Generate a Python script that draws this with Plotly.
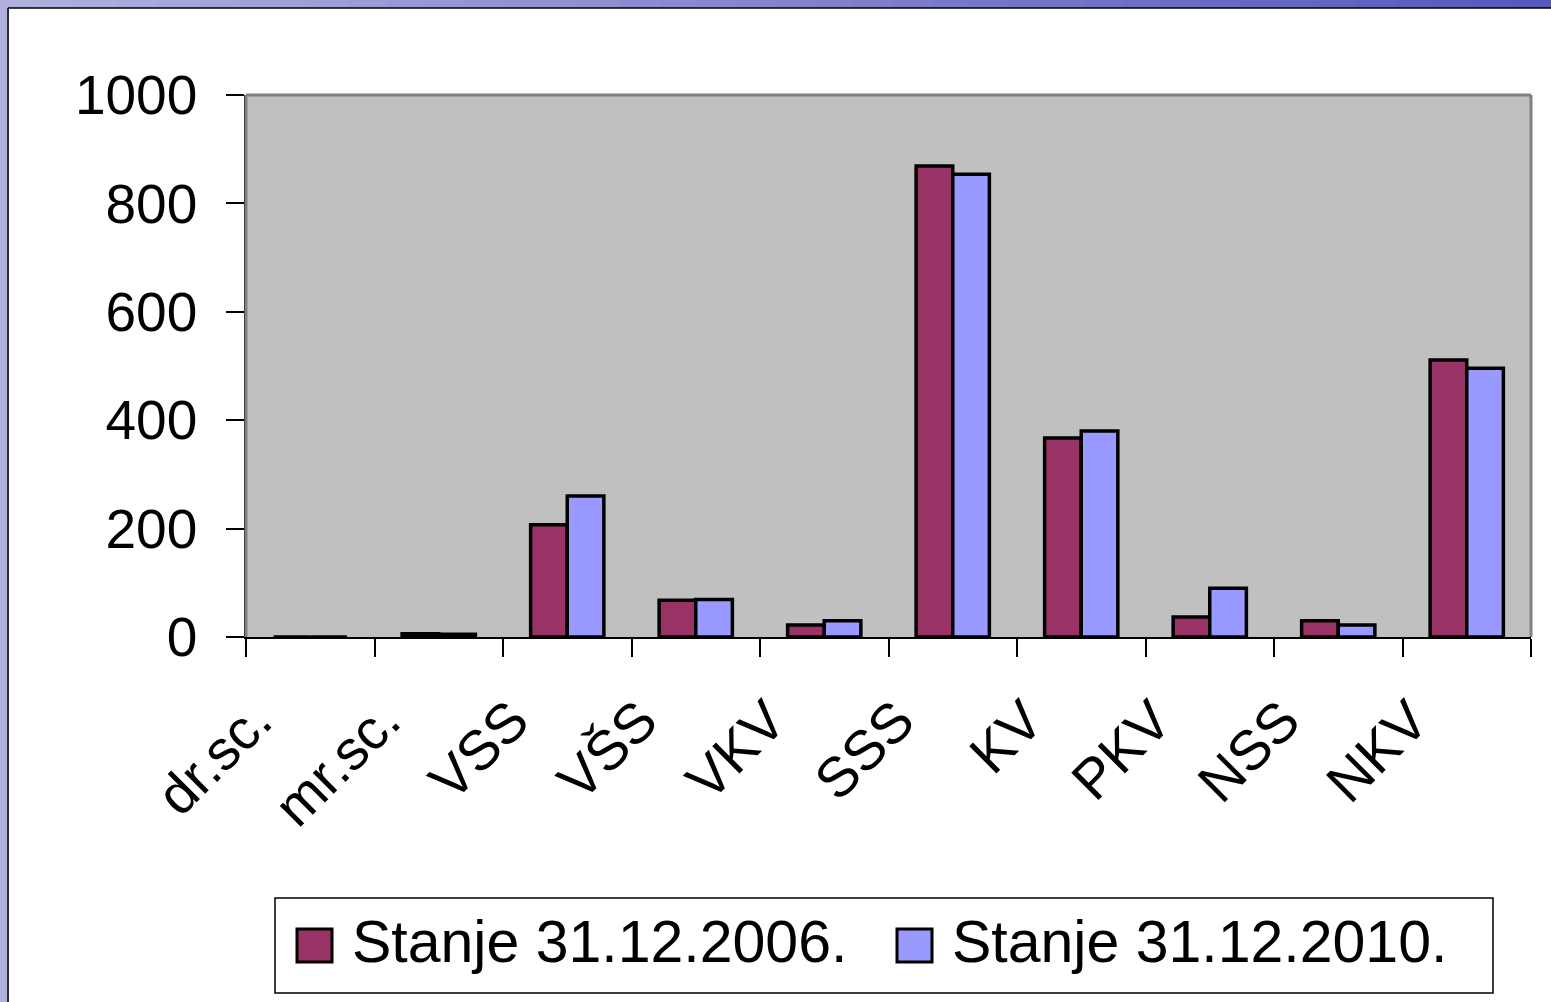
import plotly.graph_objects as go

categories = ["dr.sc.", "mr.sc.", "VSS", "VŠS", "VKV", "SSS", "KV", "PKV", "NSS", "NKV"]
series_names = ["Stanje 31.12.2006.", "Stanje 31.12.2010."]
values_2006 = [0, 6, 207, 68, 22, 869, 367, 37, 30, 511]
values_2010 = [0, 5, 260, 69, 30, 854, 380, 90, 22, 496]
series_colors = ["#993366", "#9999FF"]
y_ticks = [0, 200, 400, 600, 800, 1000]

W, H = 1551, 1002
L, R, T, B = 246, 1531, 95, 637

def px(x):
    return (x - L) / (R - L)

def py(y):
    return (B - y) / (B - T)

fig = go.Figure()
for name, vals, col in zip(series_names, [values_2006, values_2010], series_colors):
    fig.add_trace(go.Bar(
        x=categories, y=vals, name=name,
        marker=dict(color=col, line=dict(color="black", width=3.5)),
        showlegend=False,
    ))

shapes = []
# slide background frame
shapes.append(dict(type="rect", xref="paper", yref="paper", x0=px(0), x1=px(9), y0=py(H), y1=py(0),
                   fillcolor="#AEB0DC", line=dict(width=0), layer="below"))
n = 40
c0 = (0xB0, 0xB0, 0xDE)
c1 = (0x58, 0x58, 0xBE)
for i in range(n):
    t = i / (n - 1)
    c = tuple(int(c0[k] + (c1[k] - c0[k]) * t) for k in range(3))
    shapes.append(dict(type="rect", xref="paper", yref="paper",
                       x0=px(W * i / n), x1=px(W * (i + 1) / n + 1), y0=py(8), y1=py(0),
                       fillcolor="rgb(%d,%d,%d)" % c, line=dict(width=0), layer="below"))
shapes.append(dict(type="line", xref="paper", yref="paper", x0=px(8), x1=px(W), y0=py(8), y1=py(8),
                   line=dict(color="black", width=1.5)))
shapes.append(dict(type="line", xref="paper", yref="paper", x0=px(8), x1=px(8), y0=py(8), y1=py(H),
                   line=dict(color="black", width=1.5)))
# plot-area border (gray top/right)
shapes.append(dict(type="line", xref="paper", yref="paper", x0=0, x1=1, y0=1, y1=1,
                   line=dict(color="#808080", width=3)))
shapes.append(dict(type="line", xref="paper", yref="paper", x0=1, x1=1, y0=0, y1=1,
                   line=dict(color="#808080", width=3)))
shapes.append(dict(type="line", xref="paper", yref="paper", x0=0, x1=0, y0=0, y1=1,
                   line=dict(color="#808080", width=3)))
# legend box
shapes.append(dict(type="rect", xref="paper", yref="paper", x0=px(275), x1=px(1493), y0=py(993), y1=py(898),
                   fillcolor="white", line=dict(color="black", width=1.5)))
annotations = []
legend_swatch_x = [297, 897]
legend_text_x = [350, 950]
for name, col, sx, tx in zip(series_names, series_colors, legend_swatch_x, legend_text_x):
    shapes.append(dict(type="rect", xref="paper", yref="paper", x0=px(sx), x1=px(sx + 35), y0=py(962), y1=py(929),
                       fillcolor=col, line=dict(color="black", width=3)))
    annotations.append(dict(xref="paper", yref="paper", x=px(tx), y=py(942), text=name, showarrow=False,
                            xanchor="left", yanchor="middle",
                            font=dict(family="Liberation Sans, Arial", size=59, color="black")))

fig.update_layout(
    width=W, height=H,
    margin=dict(l=L, r=W - R, t=T, b=H - B),
    paper_bgcolor="white", plot_bgcolor="#C0C0C0",
    barmode="group", bargap=0.43, bargroupgap=0,
    shapes=shapes, annotations=annotations,
    font=dict(family="Liberation Sans, Arial", color="black"),
)
fig.update_xaxes(
    type="category", tickson="boundaries", ticks="outside", ticklen=18, tickwidth=1.5, tickcolor="black",
    tickangle=-45, tickfont=dict(size=56), showline=True, linecolor="black", linewidth=2,
    showgrid=False, zeroline=False, ticklabelstandoff=26, ticklabelshift=-55,
)
fig.update_yaxes(
    range=[0, 1000], tickvals=y_ticks, ticks="outside", ticklen=18, tickwidth=1.5, tickcolor="black",
    tickfont=dict(size=55), showline=True, linecolor="black", linewidth=1.5,
    showgrid=False, zeroline=False, ticklabelstandoff=18,
)
fig.write_html("out.html", config={"displayModeBar": False},
               post_script="document.body.style.margin='0';document.body.style.padding='0';")
